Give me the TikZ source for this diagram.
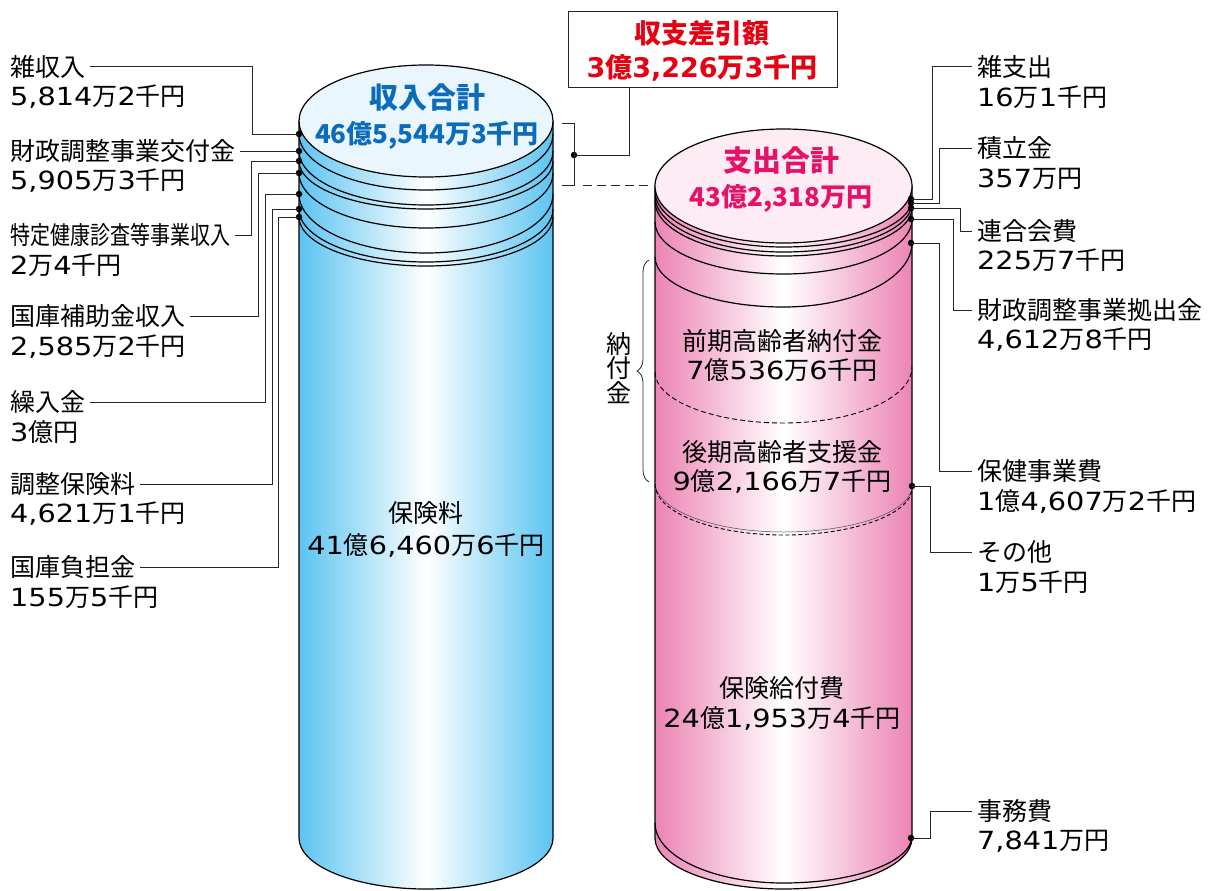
\documentclass[tikz,border=0pt]{standalone}
\usepackage{graphicx}
\usepackage{fontspec}
\setmainfont{Noto Sans CJK JP}
\newfontfamily\numf{DejaVu Sans}[FakeStretch=1.15]
\newfontfamily\numbf{DejaVu Sans}
\usetikzlibrary{decorations.pathreplacing}
\definecolor{bedge}{RGB}{92,196,241}
\definecolor{btop}{RGB}{233,246,253}
\definecolor{pedge}{RGB}{236,132,180}
\definecolor{ptop}{RGB}{253,236,244}
\definecolor{tblue}{RGB}{10,108,186}
\definecolor{tpink}{RGB}{228,18,104}
\definecolor{tred}{RGB}{230,0,18}
\newcommand\nm[1]{{\numf #1}}
\newcommand\nmb[1]{{\numbf\bfseries #1}}
\newcommand\cylarc[6][]{\draw[#1] ({#2-#3},#4) .. controls ({#2-#3},{#4+0.5523*(#6-#4)}) and ({#2-0.5523*#3},#6) .. (#2,#6) .. controls ({#2+0.5523*#3},#6) and ({#2+#3},{#5+0.5523*(#6-#5)}) .. ({#2+#3},#5);}
\tikzset{
  ol/.style={draw=black, line width=1.2pt},
  conn/.style={draw=black!85, line width=1pt},
  lab/.style={inner sep=0pt, anchor=west, font=\fontsize{25}{30}\selectfont},
  inlab/.style={inner sep=0pt, font=\fontsize{25}{30}\selectfont},
  dotn/.style={circle, fill=black, inner sep=0pt, minimum size=6.5pt},
  ttl/.style={inner sep=0pt, font=\fontsize{29}{34}\selectfont\bfseries},
  ttlv/.style={inner sep=0pt, font=\fontsize{26}{32}\selectfont\bfseries},
  boxt/.style={inner sep=0pt, text=tred, font=\fontsize{27}{32}\selectfont\bfseries},
}
\begin{document}
\begin{tikzpicture}[x=1pt,y=-1pt]
\useasboundingbox (0,0) rectangle (1210,891);
% ---------- left cylinder ----------
\shade[left color=bedge,right color=bedge,middle color=white] (299,121) -- (299,838) .. controls (299,866.17) and (355.86,889) .. (426,889) .. controls (496.14,889) and (553,866.17) .. (553,838) -- (553,121) -- cycle;
\draw[ol] (299,121) -- (299,838) .. controls (299,866.17) and (355.86,889) .. (426,889) .. controls (496.14,889) and (553,866.17) .. (553,838) -- (553,121);
\cylarc[ol]{426}{127}{134}{134}{190}
\cylarc[ol]{426}{127}{151}{151}{205}
\cylarc[ol]{426}{127}{161}{161}{209}
\cylarc[ol]{426}{127}{173}{173}{228}
\cylarc[ol]{426}{127}{194}{194}{253}
\cylarc[ol]{426}{127}{209}{209}{262}
\cylarc[ol]{426}{127}{217}{217}{266}
\filldraw[ol, fill=btop] (426,121) ellipse [x radius=127pt, y radius=56pt];
% ---------- right cylinder ----------
\shade[left color=pedge,right color=pedge,middle color=white] (655,186) -- (655,838) .. controls (655,866.17) and (712.53,889) .. (783.5,889) .. controls (854.47,889) and (912,866.17) .. (912,838) -- (912,186) -- cycle;
\draw[ol] (655,186) -- (655,838) .. controls (655,866.17) and (712.53,889) .. (783.5,889) .. controls (854.47,889) and (912,866.17) .. (912,838) -- (912,186);
\cylarc[ol]{783.5}{128.5}{191}{199}{247}
\cylarc[ol]{783.5}{128.5}{196}{203}{252}
\cylarc[ol]{783.5}{128.5}{201}{208}{256}
\cylarc[ol]{783.5}{128.5}{222}{219}{274}
\cylarc[ol]{783.5}{128.5}{257}{243}{307}
\cylarc[line width=0.9pt, dash pattern=on 5pt off 3pt]{783.5}{128.5}{372}{367}{423}
\cylarc[line width=0.5pt, draw=black!70]{783.5}{128.5}{482}{486}{532}
\cylarc[line width=0.9pt, dash pattern=on 4pt off 2.5pt]{783.5}{128.5}{484}{488}{535}
\cylarc[ol]{783.5}{128.5}{823}{836}{883}
\filldraw[ol, fill=ptop] (783.5,186) ellipse [x radius=128.5pt, y radius=57pt];
% ---------- titles ----------
\node[ttl, text=tblue] (t1) at (427,98) {収入合計};
\node[ttlv, text=tblue] (t1v) at (427,135) {46億5,544万3千円};
\node[ttl, text=tpink] (t2) at (781,161) {支出合計};
\node[ttlv, text=tpink] (t2v) at (781,198) {43億2,318万円};
% ---------- box ----------
\node[draw=black!85, line width=1pt, minimum width=269pt, minimum height=75pt, inner sep=0pt] (box) at (702.5,49.5) {};
\node[boxt] (bx1) at (702,33) {収支差引額};
\node[boxt] (bx2) at (702,68) {\nmb{3}億\nmb{3,226}万\nmb{3}千円};
\node[dotn] (bd) at (574,155) {};
\coordinate (bt1) at (562,123);
\coordinate (bt2) at (574,123);
\coordinate (bb1) at (574,185);
\coordinate (bb2) at (562,185);
\coordinate (dsa) at (583,185);
\coordinate (dsb) at (653,185);
\draw[conn] (629,155 |- box.south) |- (bd.center);
\draw[conn] (bt1) -- (bt2) -- (bb1) -- (bb2);
\draw[conn, dash pattern=on 9pt off 5pt] (dsa) -- (dsb);
% ---------- inner labels ----------
\node[inlab] (hk) at (426,513) {保険料};
\node[inlab] (hkv) at (426,545) {\nm{41}億\nm{6,460}万\nm{6}千円};
\node[inlab] (zk) at (782,341) {前期高齢者納付金};
\node[inlab] (zkv) at (782,370) {\nm{7}億\nm{536}万\nm{6}千円};
\node[inlab] (kk) at (782,452) {後期高齢者支援金};
\node[inlab] (kkv) at (782,481) {\nm{9}億\nm{2,166}万\nm{7}千円};
\node[inlab] (hq) at (782,688) {保険給付費};
\node[inlab] (hqv) at (782,718) {\nm{24}億\nm{1,953}万\nm{4}千円};
% brace 納付金
\coordinate (brb) at (649,482);
\coordinate (brt) at (649,260);
\draw[conn, line width=0.8pt, decorate, decoration={brace, amplitude=12pt}] (brb) -- (brt);
\node[inner sep=0pt, align=center, font=\fontsize{25}{24.5}\selectfont] (nf) at (619,368) {納\\付\\金};
% ---------- left labels ----------
\node[lab] (n1) at (10,67) {雑収入};
\node[lab] (v1) at (10,97) {\nm{5,814}万\nm{2}千円};
\node[lab] (n2) at (10,151) {財政調整事業交付金};
\node[lab] (v2) at (10,181) {\nm{5,905}万\nm{3}千円};
\node[lab] (n3) at (10,235) {\scalebox{0.8}[1]{特定健康診査等事業収入}};
\node[lab] (v3) at (10,265) {\nm{2}万\nm{4}千円};
\node[lab] (n4) at (10,316) {国庫補助金収入};
\node[lab] (v4) at (10,347) {\nm{2,585}万\nm{2}千円};
\node[lab] (n5) at (10,402) {繰入金};
\node[lab] (v5) at (10,432) {\nm{3}億円};
\node[lab] (n6) at (10,484) {調整保険料};
\node[lab] (v6) at (10,514) {\nm{4,621}万\nm{1}千円};
\node[lab] (n7) at (10,567) {国庫負担金};
\node[lab] (v7) at (10,597) {\nm{155}万\nm{5}千円};
\node[dotn] (d1) at (299,134) {};
\node[dotn] (d2) at (299,151) {};
\node[dotn] (d3) at (299,161) {};
\node[dotn] (d4) at (299,173) {};
\node[dotn] (d5) at (299,194) {};
\node[dotn] (d6) at (299,209) {};
\node[dotn] (d7) at (299,217) {};
\draw[conn] ([xshift=5pt]n1.east) -| (252,134) -- (d1.center);
\draw[conn] ([xshift=5pt]n2.east) -- (d2.center);
\draw[conn] ([xshift=5pt]n3.east) -| (251,161) -- (d3.center);
\draw[conn] ([xshift=5pt]n4.east) -| (258,173) -- (d4.center);
\draw[conn] ([xshift=5pt]n5.east) -| (265,194) -- (d5.center);
\draw[conn] ([xshift=5pt]n6.east) -| (272,209) -- (d6.center);
\draw[conn] ([xshift=5pt]n7.east) -| (278,217) -- (d7.center);
% ---------- right labels ----------
\node[lab] (r1) at (977,67) {雑支出};
\node[lab] (w1) at (977,97) {\nm{16}万\nm{1}千円};
\node[lab] (r2) at (977,148) {積立金};
\node[lab] (w2) at (977,179) {\nm{357}万円};
\node[lab] (r3) at (977,231) {連合会費};
\node[lab] (w3) at (977,260) {\nm{225}万\nm{7}千円};
\node[lab] (r4) at (977,310) {財政調整事業拠出金};
\node[lab] (w4) at (977,340) {\nm{4,612}万\nm{8}千円};
\node[lab] (r5) at (977,471) {保健事業費};
\node[lab] (w5) at (977,501) {\nm{1}億\nm{4,607}万\nm{2}千円};
\node[lab] (r6) at (977,552) {その他};
\node[lab] (w6) at (977,582) {\nm{1}万\nm{5}千円};
\node[lab] (r7) at (977,811) {事務費};
\node[lab] (w7) at (977,841) {\nm{7,841}万円};
\node[dotn] (e1) at (911,199) {};
\node[dotn] (e2) at (911,203) {};
\node[dotn] (e3) at (911,208) {};
\node[dotn] (e4) at (911,219) {};
\node[dotn] (e5) at (911,243) {};
\node[dotn] (e6) at (912,486) {};
\node[dotn] (e7) at (911,838) {};
\draw[conn] (e1.center) -| (932,67) -- ([xshift=-5pt]r1.west);
\draw[conn] (e2.center) -| (939,148) -- ([xshift=-5pt]r2.west);
\draw[conn] (e3.center) -| (960,231) -- ([xshift=-5pt]r3.west);
\draw[conn] (e4.center) -| (953,310) -- ([xshift=-5pt]r4.west);
\draw[conn] (e5.center) -| (939,471) -- ([xshift=-5pt]r5.west);
\draw[conn] (e6.center) -| (930,552) -- ([xshift=-5pt]r6.west);
\draw[conn] (e7.center) -| (930,811) -- ([xshift=-5pt]r7.west);
\end{tikzpicture}
\end{document}
